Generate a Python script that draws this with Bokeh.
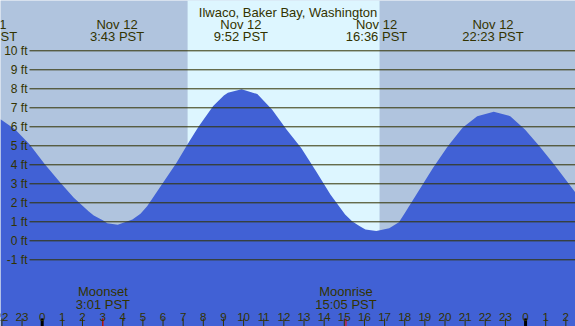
from bokeh.plotting import figure
from bokeh.models import Range1d
from bokeh.embed import file_html
from bokeh.resources import INLINE
from bokeh.core.properties import value

# ---------------- data ----------------
title_text = "Ilwaco, Baker Bay, Washington"

tide_hours = [-2.07, -1.34, -0.62, 0.11, 0.84, 1.57, 2.30, 2.56, 3.03, 3.23, 3.75,
              4.48, 4.88, 5.21, 5.94, 6.67, 7.21, 7.76, 8.49, 9.02, 9.22, 9.90,
              10.68, 11.41, 12.13, 12.86, 13.59, 14.31, 15.04, 15.40, 15.77, 16.05,
              16.59, 17.23, 17.71, 17.96, 18.68, 19.41, 20.14, 20.87, 21.60, 22.42,
              23.24, 23.97, 24.69, 25.42, 26.48]
tide_ft = [6.40, 5.86, 5.07, 4.05, 3.14, 2.26, 1.56, 1.33, 1.07, 0.93, 0.84,
           1.12, 1.42, 1.82, 2.96, 4.11, 5.07, 6.00, 7.09, 7.65, 7.79, 7.97,
           7.72, 6.91, 5.86, 4.89, 3.67, 2.44, 1.39, 1.02, 0.77, 0.60,
           0.51, 0.66, 0.98, 1.39, 2.61, 3.84, 4.98, 5.95, 6.56, 6.79,
           6.56, 5.86, 4.98, 4.02, 2.53]

event_hours = [-2.77, 3.717, 9.867, 16.6, 22.383]
event_dates = ["Nov 11", "Nov 12", "Nov 12", "Nov 12", "Nov 12"]
event_times = ["21:14 PST", "3:43 PST", "9:52 PST", "16:36 PST", "22:23 PST"]

ft_levels = [-1, 0, 1, 2, 3, 4, 5, 6, 7, 8, 9, 10]
ft_labels = [f"{v} ft" for v in ft_levels]

hour_ticks = list(range(-2, 27))
hour_labels = [str(h % 24) for h in hour_ticks]
midnight_ticks = [0, 24]

sunrise = 7.22
sunset = 16.75

moon_hours = [3.017, 15.083]
moon_names = ["Moonset", "Moonrise"]
moon_times = ["3:01 PST", "15:05 PST"]

# ---------------- layout helpers (reference pixel -> data) ----------------
def hx(px):
    return (px - 41.7) / 20.14

def fy(py):
    return (240.3 - py) / 19.0

x0, x1 = hx(0), hx(575)
y0, y1 = fy(326), fy(0)

NIGHT = "#b0c4de"
DAY = "#ddf6ff"
BLUE = "#4161d5"
INK = "#333300"
FONT = value("Liberation Sans")

p = figure(width=575, height=326, x_range=Range1d(x0, x1), y_range=Range1d(y0, y1),
           x_axis_type=None, y_axis_type=None, output_backend="svg",
           toolbar_location=None, min_border=0)
p.grid.visible = False
p.outline_line_color = None
p.background_fill_color = NIGHT
p.border_fill_color = NIGHT

# daylight band
p.quad(left=[sunrise], right=[sunset], bottom=[y0 - 1], top=[y1 + 1],
       fill_color=DAY, line_color=None)

# tide fill
p.varea(x=tide_hours, y1=[y0 - 1] * len(tide_hours), y2=tide_ft, fill_color=BLUE)

# level lines
p.segment(x0=[hx(29)] * len(ft_levels), y0=ft_levels, x1=[x1 + 1] * len(ft_levels),
          y1=ft_levels, line_color=INK, line_width=1)
p.text(x=[hx(27)] * len(ft_levels), y=ft_levels, text=ft_labels, text_align="right",
       text_baseline="middle", text_font=FONT, text_font_size="12px", text_color=INK)

# title and tide events
p.text(x=[hx(287.5)], y=[fy(12)], text=[title_text], text_align="center",
       text_baseline="alphabetic", text_font=FONT, text_font_size="13px", text_color=INK)
p.text(x=event_hours, y=[fy(24)] * len(event_hours), text=event_dates, text_align="center",
       text_baseline="alphabetic", text_font=FONT, text_font_size="13px", text_color=INK)
p.text(x=event_hours, y=[fy(36)] * len(event_hours), text=event_times, text_align="center",
       text_baseline="alphabetic", text_font=FONT, text_font_size="13px", text_color=INK)

# moon events
p.text(x=moon_hours, y=[fy(291)] * 2, text=moon_names, text_align="center",
       text_baseline="alphabetic", text_font=FONT, text_font_size="13px", text_color=INK)
p.text(x=moon_hours, y=[fy(303.5)] * 2, text=moon_times, text_align="center",
       text_baseline="alphabetic", text_font=FONT, text_font_size="13px", text_color=INK)

# hour ticks and labels
p.segment(x0=hour_ticks, y0=[fy(318)] * len(hour_ticks), x1=hour_ticks,
          y1=[y0 - 1] * len(hour_ticks), line_color=INK, line_width=1)
p.segment(x0=midnight_ticks, y0=[fy(318)] * 2, x1=midnight_ticks, y1=[y0 - 1] * 2,
          line_color="#000000", line_width=3)
p.segment(x0=moon_hours, y0=[fy(318)] * 2, x1=moon_hours, y1=[y0 - 1] * 2,
          line_color="#ff0000", line_width=1)
p.text(x=hour_ticks, y=[fy(316)] * len(hour_ticks), text=hour_labels, text_align="center",
       text_baseline="alphabetic", text_font=FONT, text_font_size="11.6px", text_color=INK)

open("out.html", "w").write(file_html(p, INLINE))
